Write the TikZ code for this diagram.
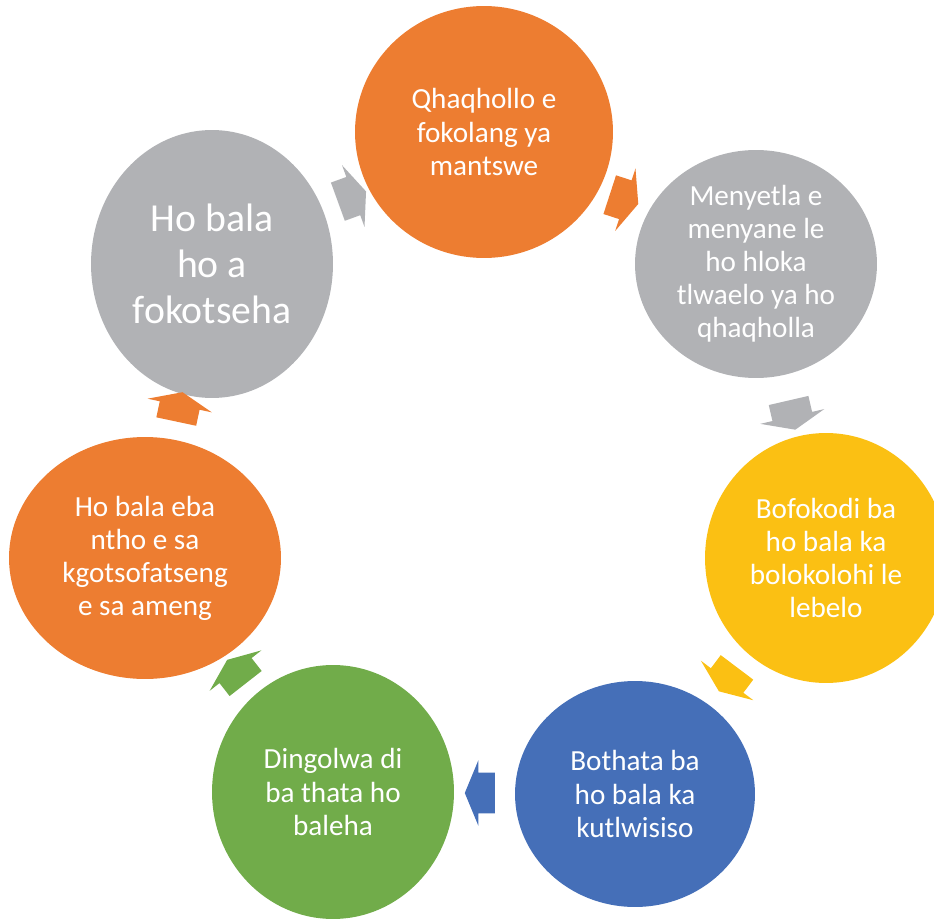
\documentclass[tikz,border=0pt]{standalone}
\usepackage{fontspec}
\setmainfont{Carlito}
\usepackage{tikz}
\usetikzlibrary{shapes.geometric, shapes.arrows, calc}
\usepackage{xcolor}
\definecolor{cycorange}{HTML}{ED7D31}
\definecolor{cycgray}{HTML}{B1B2B5}
\definecolor{cycyellow}{HTML}{FBC013}
\definecolor{cycblue}{HTML}{456FB8}
\definecolor{cycgreen}{HTML}{71AC4A}

\begin{document}
\begin{tikzpicture}[x=0.02cm, y=-0.02cm,
    stage/.style={ellipse, inner sep=0pt, text=white, align=center, font=\fontsize{16.6}{18.8}\selectfont},
    bigstage/.style={stage, font=\fontsize{22.6}{26.1}\selectfont},
    turn/.style={single arrow, draw=none, inner xsep=0pt, inner ysep=0.4cm, minimum height=0.6cm, single arrow head extend=0.25cm, single arrow tip angle=135}
]
    \useasboundingbox (0,0) rectangle (934,919);
    % Stages
    \node[stage, fill=cycorange, minimum width=5.16cm, minimum height=5.04cm] (weak) at (484,132) {Qhaqhollo e\\fokolang ya\\mantswe};
    \node[stage, fill=cycgray, minimum width=4.84cm, minimum height=4.56cm] (chances) at (756,264) {Menyetla e\\menyane le\\ho hloka\\tlwaelo ya ho\\qhaqholla};
    \node[stage, fill=cycyellow, minimum width=4.84cm, minimum height=5.0cm] (speed) at (826,558) {Bofokodi ba\\ho bala ka\\bolokolohi le\\lebelo};
    \node[stage, fill=cycblue, minimum width=4.8cm, minimum height=4.52cm] (compre) at (635,794) {Bothata ba\\ho bala ka\\kutlwisiso};
    \node[stage, fill=cycgreen, minimum width=4.84cm, minimum height=5.08cm] (texts) at (333,792) {Dingolwa di\\ba thata ho\\baleha};
    \node[stage, fill=cycorange, minimum width=5.44cm, minimum height=4.84cm] (unsat) at (145,558) {Ho bala eba\\ntho e sa\\kgotsofatseng\\e sa ameng};
    \node[bigstage, fill=cycgray, minimum width=4.84cm, minimum height=5.36cm] (decline) at (212,264) {Ho bala\\ho a\\fokotseha};

    % Arrows
    \node[turn, fill=cycgray, rotate=20] (a1) at ($(decline)!0.5!(weak)$) {};
    \node[turn, fill=cycorange, rotate=-18] (a2) at ($(weak)!0.5!(chances)$) {};
    \node[turn, fill=cycgray, rotate=-77] (a3) at ($(chances)!0.5!(speed)$) {};
    \node[turn, fill=cycyellow, rotate=-127] (a4) at ($(speed)!0.5!(compre)$) {};
    \node[turn, fill=cycblue, rotate=180] (a5) at ($(compre)!0.5!(texts)$) {};
    \node[turn, fill=cycgreen, rotate=128] (a6) at ($(texts)!0.5!(unsat)$) {};
    \node[turn, fill=cycorange, rotate=78] (a7) at ($(unsat)!0.5!(decline)$) {};
\end{tikzpicture}
\end{document}
